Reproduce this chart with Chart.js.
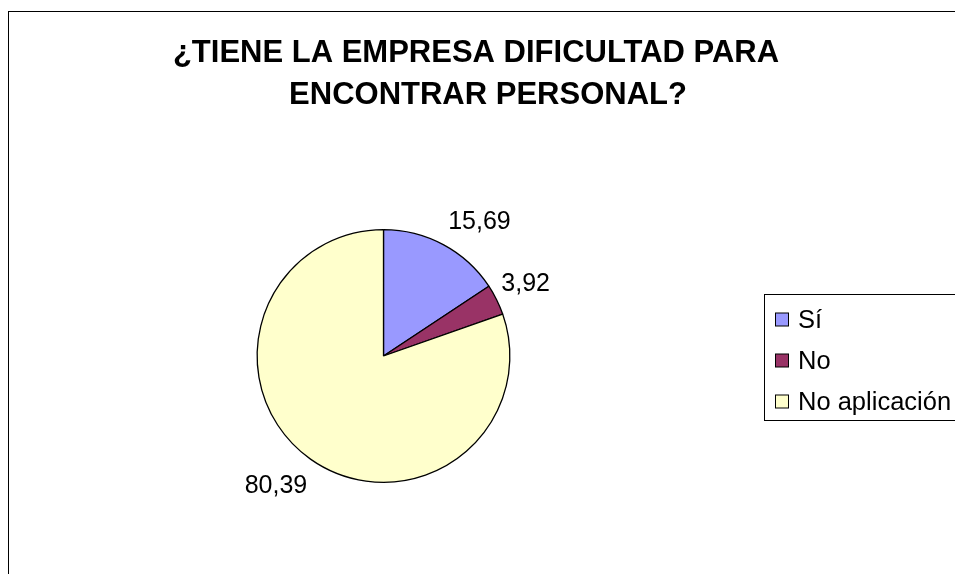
<!DOCTYPE html>
<html>
<head>
<meta charset="utf-8">
<script src="https://cdn.jsdelivr.net/npm/chart.js@4/dist/chart.umd.min.js"></script>
<style>
html,body{margin:0;padding:0;background:#fff;}
#wrap{width:955px;height:574px;position:relative;}
</style>
</head>
<body>
<div id="wrap"><canvas id="c" width="955" height="574"></canvas></div>
<script>
const titleLines = ["¿TIENE LA EMPRESA DIFICULTAD PARA", "ENCONTRAR PERSONAL?"];
const categories = ["Sí", "No", "No aplicación"];
const values = [15.69, 3.92, 80.39];
const valueLabels = ["15,69", "3,92", "80,39"];
const colors = ["#9999FF", "#993366", "#FFFFCC"];

const FONT = '"Liberation Sans", Arial, sans-serif';

const decor = {
  id: 'decor',
  afterDraw(chart) {
    const ctx = chart.ctx;
    ctx.save();
    // outer chart border
    ctx.strokeStyle = '#000';
    ctx.lineWidth = 1;
    ctx.strokeRect(8.5, 11.5, 1200, 1200);

    // title
    ctx.fillStyle = '#000';
    ctx.font = 'bold 31px ' + FONT;
    ctx.textAlign = 'center';
    ctx.textBaseline = 'alphabetic';
    ctx.fillText(titleLines[0], 476, 62);
    ctx.fillText(titleLines[1], 488, 104);

    // data labels
    const meta = chart.getDatasetMeta(0);
    ctx.font = '25px ' + FONT;
    meta.data.forEach((arc, i) => {
      const mid = (arc.startAngle + arc.endAngle) / 2;
      const c = Math.cos(mid), s = Math.sin(mid);
      const d = arc.outerRadius + 16;
      const ax = arc.x + c * d + (c > 0 ? -12 * c * c : 6);
      const ay = arc.y + s * d;
      ctx.textAlign = c >= 0 ? 'left' : 'right';
      ctx.textBaseline = 'alphabetic';
      const by = s < 0 ? ay - 2 : ay + 21;
      ctx.fillText(valueLabels[i], ax, by);
    });

    // legend
    ctx.strokeStyle = '#000';
    ctx.lineWidth = 1;
    ctx.fillStyle = '#fff';
    ctx.fillRect(764.5, 294.5, 300, 126);
    ctx.strokeRect(764.5, 294.5, 300, 126);
    ctx.font = '25.5px ' + FONT;
    ctx.textAlign = 'left';
    ctx.textBaseline = 'middle';
    chart.data.labels.forEach((lab, i) => {
      const cy = 319.5 + i * 41;
      ctx.fillStyle = chart.data.datasets[0].backgroundColor[i];
      ctx.fillRect(775.5, cy - 6.5, 13, 13);
      ctx.strokeStyle = '#000';
      ctx.strokeRect(775.5, cy - 6.5, 13, 13);
      ctx.fillStyle = '#000';
      ctx.fillText(lab, 798, cy + 1);
    });
    ctx.restore();
  }
};

new Chart(document.getElementById('c'), {
  type: 'pie',
  data: {
    labels: categories,
    datasets: [{
      data: values,
      backgroundColor: colors,
      borderColor: '#000',
      borderWidth: 1.3
    }]
  },
  options: {
    responsive: false,
    animation: false,
    layout: { padding: { left: 256.5, right: 444.5, top: 229, bottom: 91 } },
    plugins: {
      legend: { display: false },
      tooltip: { enabled: false },
      title: { display: false }
    }
  },
  plugins: [decor]
});
</script>
</body>
</html>
